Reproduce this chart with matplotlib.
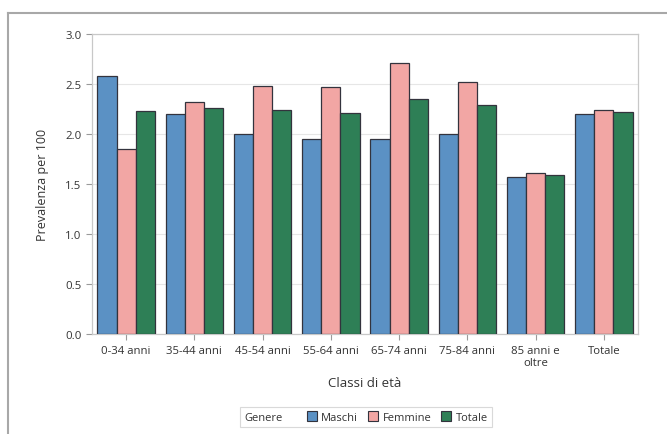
import matplotlib
matplotlib.use("Agg")
import matplotlib.pyplot as plt
from matplotlib.patches import Patch
from matplotlib.lines import Line2D
import numpy as np

categories = ["0-34 anni", "35-44 anni", "45-54 anni", "55-64 anni",
              "65-74 anni", "75-84 anni", "85 anni e\noltre", "Totale"]
maschi = [2.58, 2.20, 2.00, 1.95, 1.95, 2.00, 1.57, 2.20]
femmine = [1.85, 2.32, 2.48, 2.47, 2.71, 2.52, 1.61, 2.24]
totale = [2.23, 2.26, 2.24, 2.21, 2.35, 2.29, 1.59, 2.22]
series_names = ["Maschi", "Femmine", "Totale"]
yticks = [0.0, 0.5, 1.0, 1.5, 2.0, 2.5, 3.0]

colors = ["#5B91C4", "#F2A6A4", "#2E7F56"]
edge = "#33333D"
text_col = "#333333"

plt.rcParams["font.family"] = ["Open Sans", "DejaVu Sans"]

fig = plt.figure(figsize=(6.67, 4.35), dpi=100)
ax = fig.add_axes([92 / 667, 100 / 435, 546 / 667, 300 / 435])

x = np.arange(len(categories))
w = 0.28
for k, (vals, col, name) in enumerate(zip([maschi, femmine, totale], colors, series_names)):
    ax.bar(x + (k - 1) * w, vals, width=w, color=col, edgecolor=edge,
           linewidth=0.9, label=name, zorder=3)

ax.set_xlim(-0.5, len(categories) - 0.5)
ax.set_ylim(0, 3.0)
ax.set_yticks(yticks)
ax.set_yticklabels([f"{v:.1f}" for v in yticks])
ax.set_xticks(x)
ax.set_xticklabels(categories, linespacing=1.1)
ax.yaxis.grid(True, color="#E6E6E6", linewidth=0.8, zorder=0)
ax.set_axisbelow(True)
for s in ax.spines.values():
    s.set_color("#C8C8C8")
    s.set_linewidth(0.9)
ax.tick_params(axis="both", colors="#9A9A9A", labelcolor=text_col,
               labelsize=8.2, length=4, width=0.8)
ax.tick_params(axis="x", pad=4)

ax.set_ylabel("Prevalenza per 100", fontsize=9, color=text_col, labelpad=12)
ax.set_xlabel("Classi di età", fontsize=9.5, color=text_col, labelpad=6)

# legend with inline title
handles = [Patch(visible=False)] + [
    Patch(facecolor=c, edgecolor=edge, linewidth=0.8) for c in colors]
labels = ["Genere"] + series_names
leg = fig.legend(handles, labels, loc="center", bbox_to_anchor=(366 / 667, 1 - 418 / 435),
                 ncol=4, fontsize=8, frameon=True, fancybox=False,
                 handlelength=0.9, handleheight=0.9, handletextpad=0.4,
                 columnspacing=0.9, borderpad=0.35, labelcolor=text_col)
leg.get_frame().set_edgecolor("#D0D0D0")
leg.get_frame().set_linewidth(0.8)
leg.get_texts()[0].set_position((-14, 0))

# outer frame
fig.add_artist(Line2D([8 / 667, 8 / 667], [0, 1 - 14 / 435], transform=fig.transFigure,
                      color="#A8A8A8", linewidth=1.5))
fig.add_artist(Line2D([8 / 667, 1], [1 - 14 / 435, 1 - 14 / 435], transform=fig.transFigure,
                      color="#A8A8A8", linewidth=1.5))

fig.savefig("out.png", dpi=100)
